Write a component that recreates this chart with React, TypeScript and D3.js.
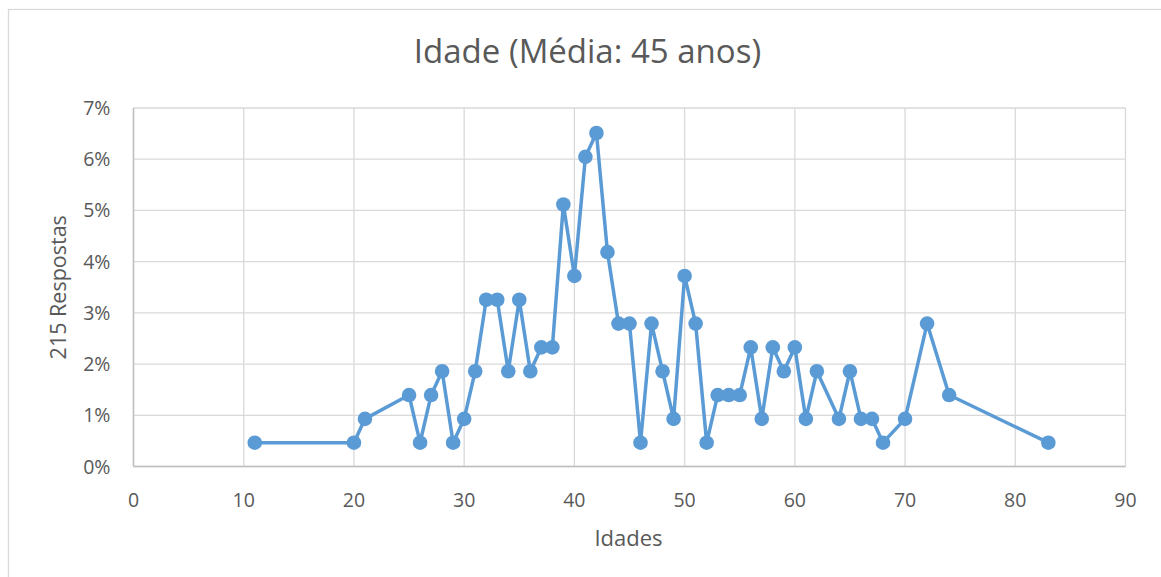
import React from "react";
import * as d3 from "d3";

const ages = [11, 20, 21, 25, 26, 27, 28, 29, 30, 31, 32, 33, 34, 35, 36, 37, 38, 39, 40, 41, 42, 43, 44, 45, 46, 47, 48, 49, 50, 51, 52, 53, 54, 55, 56, 57, 58, 59, 60, 61, 62, 64, 65, 66, 67, 68, 70, 72, 74, 83];
const counts = [1, 1, 2, 3, 1, 3, 4, 1, 2, 4, 7, 7, 4, 7, 4, 5, 5, 11, 8, 13, 14, 9, 6, 6, 1, 6, 4, 2, 8, 6, 1, 3, 3, 3, 5, 2, 5, 4, 5, 2, 4, 2, 4, 2, 2, 1, 2, 6, 3, 1];
const total = 215;
const xTicks = [0, 10, 20, 30, 40, 50, 60, 70, 80, 90];
const yTicks = [0, 0.01, 0.02, 0.03, 0.04, 0.05, 0.06, 0.07];
const title = "Idade (Média: 45 anos)";
const xTitle = "Idades";
const yTitle = "215 Respostas";

export default function App() {
  const W = 1161, H = 577;
  const left = 133.5, right = 1125.5, top = 108, bottom = 466.5;
  const x = d3.scaleLinear().domain([0, 90]).range([left, right]);
  const y = d3.scaleLinear().domain([0, 0.07]).range([bottom, top]);
  const pts = ages.map((a, i) => ({ a, v: counts[i] / total }));
  const line = d3.line<{ a: number; v: number }>().x(d => x(d.a)).y(d => y(d.v));
  const font = "'Open Sans', Lato, sans-serif";
  const txt = "#595959";
  return (
    <svg width={W} height={H} style={{ position: "absolute", left: 0, top: 0, background: "#fff" }}>
      <rect x={8.5} y={9.5} width={1200} height={600} fill="#fff" stroke="#d9d9d9" strokeWidth={1.3} />
      {xTicks.map(t => (
        <line key={"gx" + t} x1={x(t)} x2={x(t)} y1={top} y2={bottom} stroke="#d9d9d9" strokeWidth={1.3} />
      ))}
      {yTicks.map(t => (
        <line key={"gy" + t} x1={left} x2={right} y1={y(t)} y2={y(t)} stroke="#d9d9d9" strokeWidth={1.3} />
      ))}
      <line x1={left} x2={right} y1={bottom} y2={bottom} stroke="#bfbfbf" strokeWidth={1.5} />
      <line x1={left} x2={left} y1={top} y2={bottom} stroke="#bfbfbf" strokeWidth={1.5} />
      {yTicks.map(t => (
        <text key={"ty" + t} x={left - 23} y={y(t)} dy="0.36em" textAnchor="end" fontFamily={font} fontSize={19.5} fill={txt}>
          {d3.format(".0%")(t)}
        </text>
      ))}
      {xTicks.map(t => (
        <text key={"tx" + t} x={x(t)} y={bottom + 33} dy="0.36em" textAnchor="middle" fontFamily={font} fontSize={19.5} fill={txt}>
          {t}
        </text>
      ))}
      <text x={587.5} y={63} textAnchor="middle" fontFamily={font} fontSize={33} fill={txt}>{title}</text>
      <text x={628.5} y={546} textAnchor="middle" fontFamily={font} fontSize={22} fill={txt}>{xTitle}</text>
      <text transform={`translate(66,${(top + bottom) / 2}) rotate(-90)`} textAnchor="middle" fontFamily={font} fontSize={21.5} fill={txt}>{yTitle}</text>
      <path d={line(pts) || ""} fill="none" stroke="#5b9bd5" strokeWidth={3.5} strokeLinejoin="round" />
      {pts.map((p, i) => (
        <circle key={i} cx={x(p.a)} cy={y(p.v)} r={7.3} fill="#5b9bd5" />
      ))}
    </svg>
  );
}
